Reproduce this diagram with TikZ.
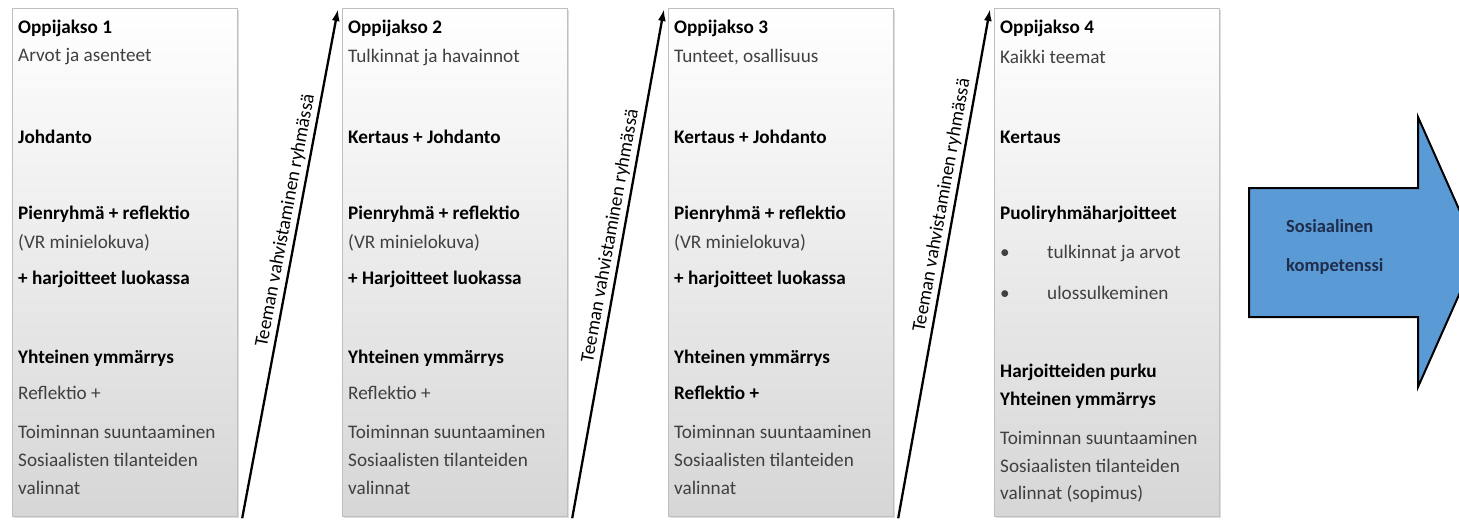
\documentclass[tikz,border=0pt]{standalone}
\usepackage{fontspec}
\setmainfont{Carlito}
\usepackage{tikz}
\usetikzlibrary{arrows.meta, calc, shadows}

\definecolor{boxline}{HTML}{BFBFBF}
\definecolor{boxbottom}{HTML}{D6D6D6}
\definecolor{bodytext}{HTML}{404040}
\definecolor{arrowblue}{HTML}{5B9BD5}
\definecolor{navytext}{HTML}{1F2D4D}

\newcommand{\tekstikoko}{\fontsize{19.2}{23}\selectfont}

\tikzset{
  jakso/.style={draw=boxline, line width=1.2pt, top color=white, bottom color=boxbottom,
    minimum width=225pt, minimum height=508pt, inner sep=0pt, anchor=north west,
    drop shadow={shadow xshift=1.5pt, shadow yshift=-1.5pt, fill=gray!45, opacity=.6}},
  otsikko/.style={anchor=west, inner sep=0pt, font=\tekstikoko\bfseries, text=black},
  rivi/.style={anchor=west, inner sep=0pt, font=\tekstikoko, text=bodytext},
  vahvistus/.style={-{Latex[length=12pt,width=8pt]}, line width=2.3pt},
  vahvistusteksti/.style={above=2pt, sloped, inner sep=1pt, font=\tekstikoko},
}

\begin{document}
\begin{tikzpicture}[x=1pt, y=-1pt]
    \useasboundingbox (0,0) rectangle (1459,520);
    \clip (0,0) rectangle (1459,520);
    % Oppijaksot
    \node[jakso] (j1) at (12,8) {};
    \node[jakso] (j2) at (342,8) {};
    \node[jakso] (j3) at (668,8) {};
    \node[jakso] (j4) at (994,8) {};
    % Jakso 1
    \foreach \y/\s/\t [count=\i] in {20/otsikko/Oppijakso 1, 49/rivi/Arvot ja asenteet,
        129/otsikko/Johdanto, 206/otsikko/Pienryhmä + reflektio, 235/rivi/(VR minielokuva),
        271/otsikko/+ harjoitteet luokassa, 350/otsikko/Yhteinen ymmärrys, 385/rivi/Reflektio +,
        424/rivi/Toiminnan suuntaaminen, 452/rivi/Sosiaalisten tilanteiden, 480/rivi/valinnat}
      \node[\s] (j1-\i) at ($(j1.north west)+(6,\y)$) {\t};
    % Jakso 2
    \foreach \y/\s/\t [count=\i] in {20/otsikko/Oppijakso 2, 49/rivi/Tulkinnat ja havainnot,
        129/otsikko/Kertaus + Johdanto, 206/otsikko/Pienryhmä + reflektio, 235/rivi/(VR minielokuva),
        271/otsikko/+ Harjoitteet luokassa, 350/otsikko/Yhteinen ymmärrys, 385/rivi/Reflektio +,
        424/rivi/Toiminnan suuntaaminen, 452/rivi/Sosiaalisten tilanteiden, 480/rivi/valinnat}
      \node[\s] (j2-\i) at ($(j2.north west)+(6,\y)$) {\t};
    % Jakso 3
    \foreach \y/\s/\t [count=\i] in {20/otsikko/Oppijakso 3, 49/rivi/{Tunteet, osallisuus},
        129/otsikko/Kertaus + Johdanto, 206/otsikko/Pienryhmä + reflektio, 235/rivi/(VR minielokuva),
        271/otsikko/+ harjoitteet luokassa, 350/otsikko/Yhteinen ymmärrys, 385/otsikko/Reflektio +,
        424/rivi/Toiminnan suuntaaminen, 452/rivi/Sosiaalisten tilanteiden, 480/rivi/valinnat}
      \node[\s] (j3-\i) at ($(j3.north west)+(6,\y)$) {\t};
    % Jakso 4
    \foreach \y/\s/\t [count=\i] in {20/otsikko/Oppijakso 4, 49/rivi/Kaikki teemat,
        129/otsikko/Kertaus, 206/otsikko/Puoliryhmäharjoitteet,
        245/rivi/{\makebox[47pt][l]{\textbullet}tulkinnat ja arvot},
        285/rivi/{\makebox[47pt][l]{\textbullet}ulossulkeminen},
        364/otsikko/Harjoitteiden purku, 392/otsikko/Yhteinen ymmärrys,
        430/rivi/Toiminnan suuntaaminen, 458/rivi/Sosiaalisten tilanteiden, 486/rivi/valinnat (sopimus)}
      \node[\s] (j4-\i) at ($(j4.north west)+(6,\y)$) {\t};
    % Teeman vahvistaminen
    \draw[vahvistus] ($(j1.south east)+(4,1)$) -- ($(j2.north west)+(-4,1)$)
        node[vahvistusteksti, pos=.58] (v1) {Teeman vahvistaminen ryhmässä};
    \draw[vahvistus] ($(j2.south east)+(4,1)$) -- ($(j3.north west)+(-4,1)$)
        node[vahvistusteksti, pos=.55] (v2) {Teeman vahvistaminen ryhmässä};
    \draw[vahvistus] ($(j3.south east)+(4,1)$) -- ($(j4.north west)+(-4,1)$)
        node[vahvistusteksti, pos=.61] (v3) {Teeman vahvistaminen ryhmässä};
    % Sosiaalinen kompetenssi
    \draw[fill=arrowblue, line width=2pt, line join=miter]
        (1249,188) -- (1418,188) -- (1418,117) -- (1478,252) -- (1418,387)
        -- (1418,317) -- (1249,317) -- cycle;
    \node[anchor=west, inner sep=0pt, align=left, text=navytext,
        font=\fontsize{18.5}{39}\selectfont\bfseries] (komp) at (1286,247)
        {Sosiaalinen\\kompetenssi};
\end{tikzpicture}
\end{document}
